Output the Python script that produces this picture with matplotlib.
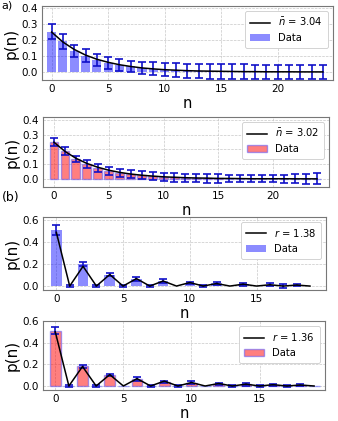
import numpy as np
import matplotlib
matplotlib.use("Agg")
import matplotlib.pyplot as plt

# -----------------------------
# DATA
# -----------------------------
# (a) thermal states
n_a = list(range(25))
bars_a1 = [0.25, 0.19, 0.13, 0.10, 0.075, 0.058, 0.045, 0.034, 0.025, 0.019, 0.014, 0.011,
           0.008, 0.006, 0.004, 0.003, 0.002, 0.002, 0.001, 0.001, 0.001, 0.0, 0.0, 0.0, 0.0]
err_a1 = [0.048, 0.046, 0.040, 0.040, 0.038, 0.037, 0.037, 0.037, 0.040, 0.040, 0.042, 0.043,
          0.044, 0.045, 0.045, 0.045, 0.045, 0.045, 0.045, 0.045, 0.045, 0.045, 0.045, 0.045, 0.045]
fit_a1 = [0.248, 0.186, 0.140, 0.105, 0.079, 0.060, 0.045, 0.034, 0.025, 0.019, 0.014, 0.011,
          0.008, 0.006, 0.005, 0.004, 0.003, 0.002, 0.002, 0.001, 0.001, 0.001, 0.0005, 0.0004, 0.0003]
label_a1 = r"$\bar{n}$ = 3.04"

bars_a2 = [0.25, 0.19, 0.135, 0.10, 0.075, 0.056, 0.043, 0.032, 0.024, 0.018, 0.013, 0.010,
           0.007, 0.005, 0.004, 0.003, 0.002, 0.002, 0.001, 0.001, 0.001, 0.0, 0.0, 0.0, 0.0]
err_a2 = [0.028, 0.028, 0.022, 0.025, 0.027, 0.027, 0.027, 0.028, 0.028, 0.028, 0.028, 0.028,
          0.028, 0.028, 0.030, 0.028, 0.026, 0.025, 0.025, 0.025, 0.025, 0.028, 0.030, 0.033, 0.037]
fit_a2 = [0.249, 0.187, 0.140, 0.105, 0.079, 0.059, 0.044, 0.033, 0.025, 0.019, 0.014, 0.011,
          0.008, 0.006, 0.005, 0.003, 0.003, 0.002, 0.001, 0.001, 0.001, 0.001, 0.0005, 0.0004, 0.0003]
label_a2 = r"$\bar{n}$ = 3.02"

# (b) squeezed vacuum
n_b = list(range(20))
bars_b1 = [0.51, 0.0, 0.20, 0.0, 0.105, 0.0, 0.065, 0.0, 0.042, 0.0, 0.030, 0.0,
           0.025, 0.0, 0.015, 0.0, 0.012, 0.0, 0.008, 0.0]
err_b1 = [0.045, 0.012, 0.020, 0.010, 0.015, 0.008, 0.015, 0.008, 0.018, 0.0, 0.010, 0.010,
          0.015, 0.0, 0.015, 0.0, 0.015, 0.015, 0.012, 0.0]
fit_b1 = [0.49, 0.0, 0.18, 0.0, 0.105, 0.0, 0.068, 0.0, 0.046, 0.0, 0.032, 0.0,
          0.023, 0.0, 0.017, 0.0, 0.012, 0.0, 0.009, 0.0]
label_b1 = r"$r$ = 1.38"

bars_b2 = [0.51, 0.0, 0.18, 0.0, 0.105, 0.0, 0.065, 0.0, 0.040, 0.0, 0.030, 0.0,
           0.020, 0.0, 0.015, 0.0, 0.010, 0.0, 0.008, 0.0]
err_b2 = [0.030, 0.006, 0.015, 0.006, 0.010, 0.0, 0.015, 0.006, 0.010, 0.008, 0.015, 0.0,
          0.012, 0.010, 0.015, 0.010, 0.012, 0.010, 0.012, 0.0]
fit_b2 = [0.50, 0.0, 0.18, 0.0, 0.105, 0.0, 0.068, 0.0, 0.045, 0.0, 0.032, 0.0,
          0.023, 0.0, 0.017, 0.0, 0.012, 0.0, 0.009, 0.0]
label_b2 = r"$r$ = 1.36"

# -----------------------------
# FIGURE
# -----------------------------
W, H = 338, 421
fig = plt.figure(figsize=(W / 100, H / 100), dpi=100)


def px_axes(l, t, r, b):
    return fig.add_axes([l / W, 1 - b / H, (r - l) / W, (b - t) / H])


blue_fill = (0.0, 0.0, 1.0, 0.45)
red_fill = (1.0, 0.0, 0.0, 0.5)
red_edge = (0.3, 0.3, 1.0, 0.5)
err_col = "#1010c8"


def panel(ax, n, bars, err, fit, label, red, xlim, ylim, yticks, xticks):
    if red:
        ax.bar(n, bars, width=0.8, color=red_fill, edgecolor=red_edge, linewidth=1.0,
               label="Data", zorder=2)
    else:
        ax.bar(n, bars, width=0.8, color=blue_fill, label="Data", zorder=2)
    ax.plot(n, fit, color="black", lw=1.1, label=label, zorder=4)
    nn = np.array(n)
    bb = np.array(bars)
    ee = np.array(err)
    m = ee > 0
    ax.errorbar(nn[m], bb[m], yerr=ee[m], fmt="none", ecolor=err_col, elinewidth=1.2,
                capsize=3, capthick=1.2, zorder=3)
    ax.set_xlim(*xlim)
    ax.set_ylim(*ylim)
    ax.set_yticks(yticks)
    ax.set_xticks(xticks)
    ax.tick_params(labelsize=7.5, length=0, pad=3)
    ax.set_ylabel("p(n)", fontsize=11, labelpad=2)
    ax.set_xlabel("n", fontsize=10.5, labelpad=1)
    ax.grid(True, ls="--", lw=0.5, color="#c8c8c8", zorder=0)
    ax.set_axisbelow(True)
    for s in ax.spines.values():
        s.set_color("#777777")
        s.set_linewidth(0.8)
    leg = ax.legend(loc="upper right", fontsize=7.2, framealpha=1, edgecolor="#cccccc",
                    fancybox=True, handlelength=2.0, borderpad=0.5, labelspacing=0.5)
    leg.get_frame().set_linewidth(0.6)


ax1 = px_axes(42, 6, 333, 80)
panel(ax1, n_a, bars_a1, err_a1, fit_a1, label_a1, False,
      (-0.85, 24.9), (-0.05, 0.41), [0, 0.1, 0.2, 0.3, 0.4], [0, 5, 10, 15, 20])

ax2 = px_axes(43, 117, 329, 187)
panel(ax2, n_a, bars_a2, err_a2, fit_a2, label_a2, True,
      (-1.0, 25.1), (-0.055, 0.42), [0, 0.1, 0.2, 0.3, 0.4], [0, 5, 10, 15, 20])

ax3 = px_axes(43, 217, 326, 290)
panel(ax3, n_b, bars_b1, err_b1, fit_b1, label_b1, False,
      (-1.0, 20.2), (-0.036, 0.63), [0, 0.2, 0.4, 0.6], [0, 5, 10, 15])

ax4 = px_axes(43, 321, 325, 390)
panel(ax4, n_b, bars_b2, err_b2, fit_b2, label_b2, True,
      (-0.9, 19.8), (-0.037, 0.6), [0, 0.2, 0.4, 0.6], [0, 5, 10, 15])

fig.text(1 / W, 1.0, "a)", fontsize=8, ha="left", va="top")
fig.text(2 / W, 1 - 198 / H, "(b)", fontsize=9, ha="left", va="center")

fig.savefig("out.png", dpi=100)
